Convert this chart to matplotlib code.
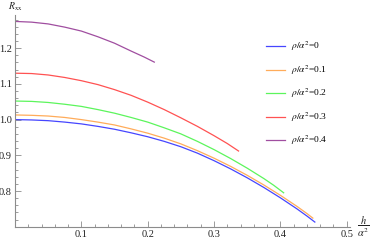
import matplotlib
matplotlib.use("Agg")
import matplotlib.pyplot as plt
from matplotlib.ticker import MultipleLocator, FixedLocator

plt.rc("font", family="Liberation Serif", size=7.5)
plt.rc("mathtext", fontset="stix")

# values (h/alpha^2 -> R_xx)
h_0 = [0, .025, .05, .075, .1, .125, .15, .175, .2, .225, .25, .275, .3, .325, .35, .375, .4, .425, .44, .452]
r_0 = [1.000, 0.999, 0.997, 0.993, 0.988, 0.981, 0.973, 0.963, 0.952, 0.939, 0.924, 0.906,
       0.885, 0.862, 0.837, 0.810, 0.781, 0.750, 0.730, 0.713]
h_1 = [0, .025, .05, .075, .1, .125, .15, .175, .2, .225, .25, .275, .3, .325, .35, .375, .4, .425, .44, .449]
r_1 = [1.013, 1.012, 1.010, 1.006, 1.000, 0.993, 0.985, 0.974, 0.962, 0.948, 0.932, 0.913,
       0.892, 0.869, 0.844, 0.817, 0.788, 0.757, 0.737, 0.724]
h_2 = [0, .025, .05, .075, .1, .125, .15, .175, .2, .225, .25, .275, .3, .325, .35, .375, .39, .405]
r_2 = [1.052, 1.051, 1.048, 1.043, 1.037, 1.028, 1.018, 1.006, 0.993, 0.977, 0.960, 0.939,
       0.916, 0.891, 0.864, 0.835, 0.816, 0.795]
h_3 = [0, .025, .05, .075, .1, .125, .15, .175, .2, .225, .25, .275, .3, .32, .337]
r_3 = [1.130, 1.129, 1.125, 1.118, 1.109, 1.098, 1.084, 1.068, 1.049, 1.028, 1.005, 0.981,
       0.955, 0.933, 0.912]
h_4 = [0, .025, .05, .075, .1, .125, .15, .175, .195, .21]
r_4 = [1.275, 1.273, 1.268, 1.259, 1.248, 1.232, 1.214, 1.192, 1.175, 1.161]

labels = [r"$\rho/\alpha^2$=0", r"$\rho/\alpha^2$=0.1", r"$\rho/\alpha^2$=0.2",
          r"$\rho/\alpha^2$=0.3", r"$\rho/\alpha^2$=0.4"]
colors = ["#4646ff", "#ffac5a", "#5cf55c", "#ff5252", "#a04ea0"]

x_ticks = [0.1, 0.2, 0.3, 0.4, 0.5]
y_ticks = [0.8, 0.9, 1.0, 1.1, 1.2]

W, H = 374, 242
fig = plt.figure(figsize=(W / 100, H / 100), dpi=100)
ax = fig.add_axes([15 / W, (H - 226.7) / H, (350 - 15) / W, (226.7 - 15) / H])

for hx, ry, lab, col in zip([h_0, h_1, h_2, h_3, h_4], [r_0, r_1, r_2, r_3, r_4], labels, colors):
    ax.plot(hx, ry, color=col, lw=0.9, label=lab)

ax.set_xlim(0, 0.505)
ax.set_ylim(0.70, 1.293)

axis_col = "#8c8c8c"
for s in ["top", "right"]:
    ax.spines[s].set_visible(False)
for s in ["left", "bottom"]:
    ax.spines[s].set_color(axis_col)
    ax.spines[s].set_linewidth(0.8)

ax.xaxis.set_major_locator(FixedLocator(x_ticks))
ax.yaxis.set_major_locator(FixedLocator(y_ticks))
ax.xaxis.set_minor_locator(MultipleLocator(0.02))
ax.yaxis.set_minor_locator(MultipleLocator(0.02))
ax.set_xticklabels([f"{v:.1f}" for v in x_ticks])
ax.set_yticklabels([f"{v:.1f}" for v in y_ticks])
ax.tick_params(which="both", direction="in", color=axis_col, width=0.6, labelcolor="#222222")
ax.tick_params(which="major", length=4, pad=2.5)
ax.tick_params(which="minor", length=2)

# axis labels at the ends of the axes, Mathematica style
ax.text(1.04, 0.0, r"$\dfrac{h}{\alpha^2}$", transform=ax.transAxes,
        fontsize=7.5, ha="center", va="center", color="#222222")
ax.text(0.0, 1.038, r"$R_{\mathrm{xx}}$", transform=ax.transAxes,
        fontsize=7, ha="center", va="center", color="#222222")

ax.legend(loc="upper left", bbox_to_anchor=(266 / W, (H - 40) / H),
          bbox_transform=fig.transFigure, frameon=False, fontsize=6.8,
          handlelength=2.0, handletextpad=0.6, labelspacing=1.07,
          borderaxespad=0, borderpad=0)

fig.savefig("out.png", dpi=100)
